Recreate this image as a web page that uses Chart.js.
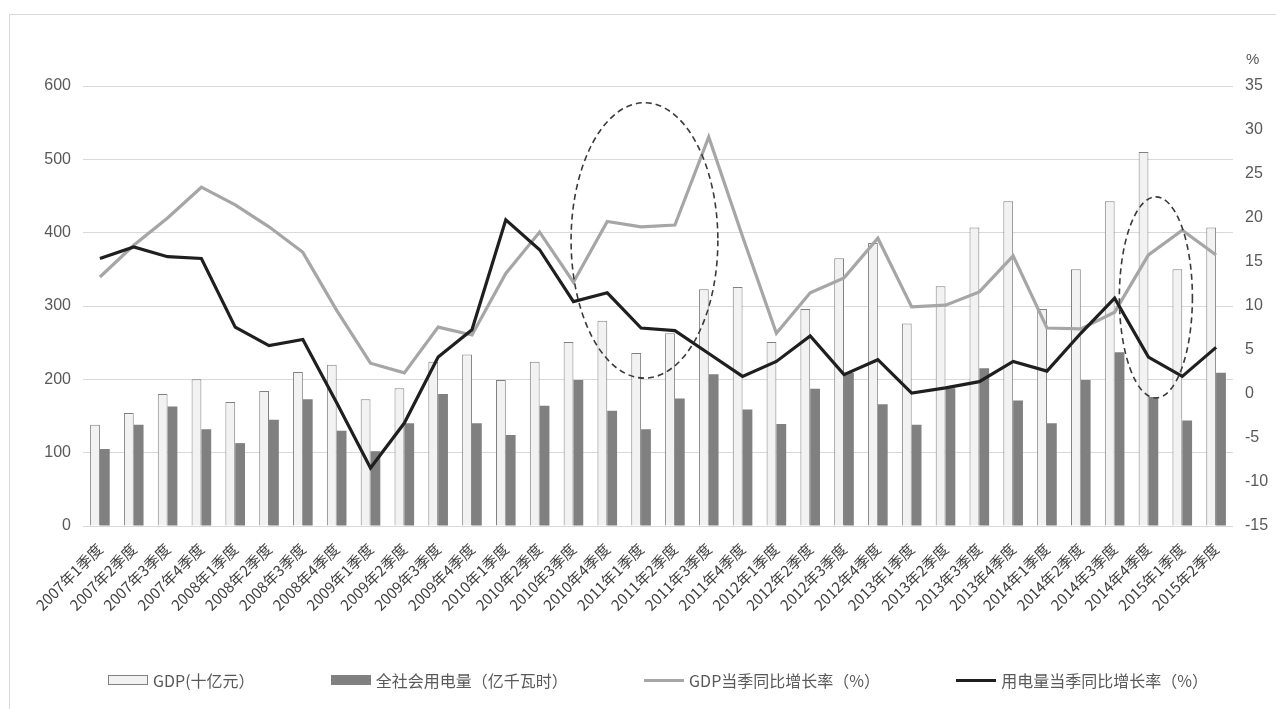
<!DOCTYPE html>
<html><head><meta charset="utf-8">
<script src="https://cdn.jsdelivr.net/npm/chart.js@4.4.0/dist/chart.umd.min.js"></script>
<style>
html,body{margin:0;padding:0;background:#fff;}
#wrap{width:1276px;height:709px;position:relative;overflow:hidden;}
#legend{position:absolute;left:108px;top:670px;width:1100px;display:flex;justify-content:space-between;align-items:center;
  font-family:"Noto Sans CJK SC",sans-serif;font-size:16px;color:#595959;line-height:20px;}
#legend .item{display:flex;align-items:center;white-space:nowrap;}
#legend .sw{display:inline-block;width:40px;margin-right:5px;box-sizing:border-box;}
</style>
</head><body><div id="wrap"><canvas id="c" width="1276" height="709"></canvas><div id="legend"></div></div>
<script>
const categories = ['2007年1季度','2007年2季度','2007年3季度','2007年4季度','2008年1季度','2008年2季度','2008年3季度','2008年4季度','2009年1季度','2009年2季度','2009年3季度','2009年4季度','2010年1季度','2010年2季度','2010年3季度','2010年4季度','2011年1季度','2011年2季度','2011年3季度','2011年4季度','2012年1季度','2012年2季度','2012年3季度','2012年4季度','2013年1季度','2013年2季度','2013年3季度','2013年4季度','2014年1季度','2014年2季度','2014年3季度','2014年4季度','2015年1季度','2015年2季度'];
const gdp = [138,154,180,200,169,184,210,220,173,188,224,234,199,224,251,280,236,263,323,326,251,296,365,386,276,327,407,443,296,350,443,510,350,407];
const electricity = [105,138,163,132,113,145,173,130,102,140,180,140,124,164,199,157,132,174,207,159,139,187,209,166,138,188,215,171,140,199,237,176,144,209];
const gdpGrowth = [13.3,16.9,20.0,23.5,21.5,19.0,16.1,9.5,3.5,2.4,7.6,6.7,13.7,18.4,12.7,19.6,19.0,19.2,29.2,17.9,6.9,11.5,13.2,17.7,9.9,10.1,11.6,15.7,7.5,7.4,9.3,15.8,18.6,15.8];
const elecGrowth = [15.4,16.7,15.6,15.4,7.6,5.5,6.2,-1.0,-8.4,-3.3,4.2,7.3,19.8,16.4,10.5,11.5,7.5,7.2,4.6,2.0,3.7,6.6,2.2,3.9,0.1,0.7,1.4,3.7,2.6,6.9,10.9,4.2,2.0,5.3];
const seriesNames = ['GDP(十亿元）','全社会用电量（亿千瓦时）','GDP当季同比增长率（%）','用电量当季同比增长率（%）'];
const leftTicks = {min:0, max:600, step:100};
const rightTicks = {min:-15, max:35, step:5, unit:'%'};
// dashed-ellipse annotations: center category index, half width (categories), top/bottom on right axis (%)
const ellipseCenters = [16.1, 31.22];
const ellipseHalfWidths = [2.17, 1.08];
const ellipseTops = [33.1, 22.4];
const ellipseBottoms = [1.8, -0.45];

const numFont = {family:'"Liberation Sans", Arial, sans-serif', size:16};
const cjkFont = {family:'"Noto Sans CJK SC", sans-serif', size:15};

const framePlugin = {
  id:'frame',
  beforeDraw(chart){
    const ctx = chart.ctx;
    ctx.save();
    ctx.fillStyle='#fff'; ctx.fillRect(0,0,chart.width,chart.height);
    ctx.strokeStyle='#d9d9d9'; ctx.lineWidth=1;
    ctx.strokeRect(9.5,14.5,chart.width+20,chart.height+20);
    ctx.restore();
  },
  afterDraw(chart){
    const ctx = chart.ctx, s = chart.scales.y1;
    ctx.save();
    ctx.font = '15px "Liberation Sans", Arial, sans-serif';
    ctx.fillStyle='#595959'; ctx.textAlign='left'; ctx.textBaseline='middle';
    ctx.fillText(rightTicks.unit, s.left + 13, s.top - 26);
    ctx.restore();
  }
};
const ellipsePlugin = {
  id:'ellipses',
  afterDatasetsDraw(chart){
    const ctx = chart.ctx, xs = chart.scales.x, ys = chart.scales.y1;
    ctx.save();
    ctx.setLineDash([6,4]); ctx.strokeStyle='#3a3a3a'; ctx.lineWidth=1.6;
    ellipseCenters.forEach((c,i)=>{
      const cx = xs.getPixelForValue(c);
      const rx = xs.getPixelForValue(c + ellipseHalfWidths[i]) - cx;
      const yt = ys.getPixelForValue(ellipseTops[i]), yb = ys.getPixelForValue(ellipseBottoms[i]);
      ctx.beginPath();
      ctx.ellipse(cx,(yt+yb)/2,rx,(yb-yt)/2,0,0,Math.PI*2);
      ctx.stroke();
    });
    ctx.restore();
  }
};

const chart = new Chart(document.getElementById('c'), {
  data:{
    labels: categories,
    datasets:[
      {type:'bar', label:seriesNames[0], data:gdp, yAxisID:'y', backgroundColor:'#f2f2f2', borderColor:'#808080', borderWidth:1, categoryPercentage:0.58, barPercentage:1.0, order:2},
      {type:'bar', label:seriesNames[1], data:electricity, yAxisID:'y', backgroundColor:'#808080', borderColor:'#808080', borderWidth:0, categoryPercentage:0.58, barPercentage:1.0, order:3},
      {type:'line', label:seriesNames[2], data:gdpGrowth, yAxisID:'y1', borderColor:'#a6a6a6', backgroundColor:'#a6a6a6', borderWidth:3.2, pointRadius:0, tension:0, order:1},
      {type:'line', label:seriesNames[3], data:elecGrowth, yAxisID:'y1', borderColor:'#1f1f1f', backgroundColor:'#1f1f1f', borderWidth:3.2, pointRadius:0, tension:0, order:0}
    ]
  },
  options:{
    responsive:false, animation:false, devicePixelRatio:1,
    layout:{padding:{top:86,left:0,right:0,bottom:63}},
    scales:{
      x:{
        grid:{display:false}, border:{display:false},
        ticks:{font:cjkFont, color:'#404040', autoSkip:false, maxRotation:45, minRotation:45, padding:6},
        afterFit(s){ s.height = 120; }
      },
      y:{
        position:'left', min:leftTicks.min, max:leftTicks.max,
        ticks:{stepSize:leftTicks.step, font:numFont, color:'#595959', padding:12},
        grid:{color:'#d9d9d9', drawTicks:false}, border:{display:false},
        afterFit(s){ s.width = 83; }
      },
      y1:{
        position:'right', min:rightTicks.min, max:rightTicks.max,
        ticks:{stepSize:rightTicks.step, font:numFont, color:'#595959', padding:12},
        grid:{display:false, drawTicks:false}, border:{display:false},
        afterFit(s){ s.width = 43; }
      }
    },
    plugins:{ legend:{display:false}, tooltip:{enabled:false} }
  },
  plugins:[framePlugin, ellipsePlugin]
});

// HTML legend built from the chart's datasets
const legendEl = document.getElementById('legend');
chart.data.datasets.forEach(ds=>{
  const item = document.createElement('div'); item.className='item';
  const sw = document.createElement('span'); sw.className='sw';
  if (ds.type==='bar'){
    sw.style.height='10px'; sw.style.background=ds.backgroundColor;
    sw.style.border = ds.borderWidth ? ds.borderWidth+'px solid '+ds.borderColor : 'none';
  } else {
    sw.style.height='3px'; sw.style.background=ds.borderColor;
  }
  const tx = document.createElement('span'); tx.textContent = ds.label;
  item.appendChild(sw); item.appendChild(tx); legendEl.appendChild(item);
});
</script></body></html>
